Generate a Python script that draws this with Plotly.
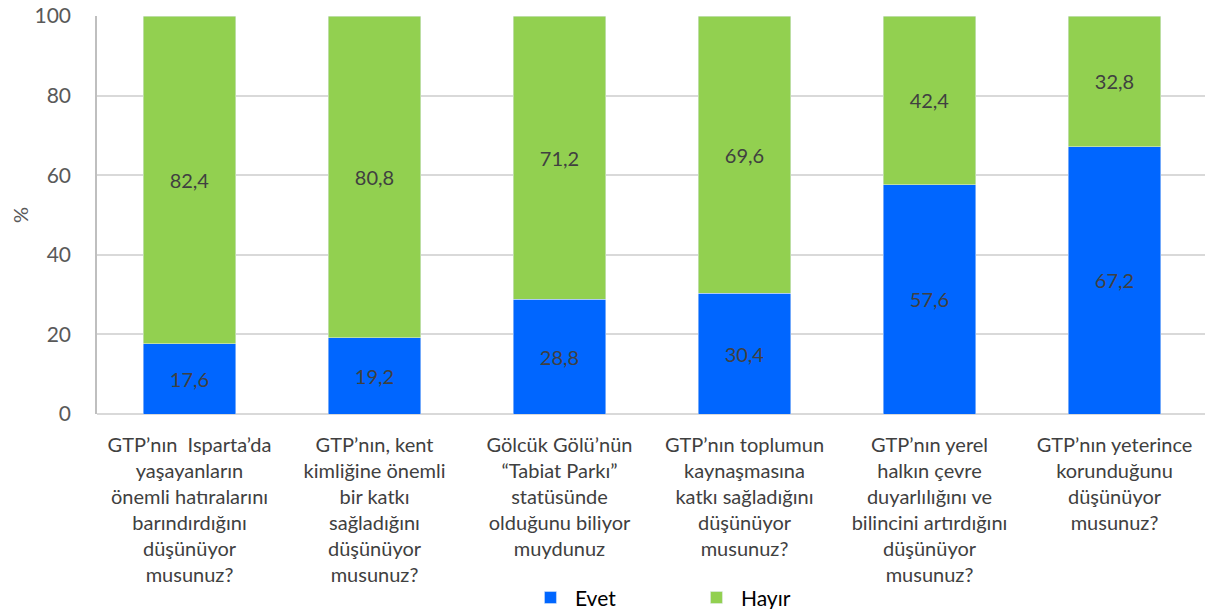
import plotly.graph_objects as go

categories = [
    "GTP’nın  Isparta’da<br>yaşayanların<br>önemli hatıralarını<br>barındırdığını<br>düşünüyor<br>musunuz?",
    "GTP’nın, kent<br>kimliğine önemli<br>bir katkı<br>sağladığını<br>düşünüyor<br>musunuz?",
    "Gölcük Gölü’nün<br>“Tabiat Parkı”<br>statüsünde<br>olduğunu biliyor<br>muydunuz",
    "GTP’nın toplumun<br>kaynaşmasına<br>katkı sağladığını<br>düşünüyor<br>musunuz?",
    "GTP’nın yerel<br>halkın çevre<br>duyarlılığını ve<br>bilincini artırdığını<br>düşünüyor<br>musunuz?",
    "GTP’nın yeterince<br>korunduğunu<br>düşünüyor<br>musunuz?",
]
evet = [17.6, 19.2, 28.8, 30.4, 57.6, 67.2]
hayir = [82.4, 80.8, 71.2, 69.6, 42.4, 32.8]
y_ticks = [0, 20, 40, 60, 80, 100]

FONT = "Lato"

def fmt(v):
    return f"{v:.1f}".replace(".", ",")

fig = go.Figure()
fig.add_trace(go.Bar(
    x=categories, y=evet, name="Evet", marker_color="#0066FF",
    text=[fmt(v) for v in evet], textposition="inside", insidetextanchor="middle",
    textfont=dict(family=FONT, size=20, color="#404040"), textangle=0,
))
fig.add_trace(go.Bar(
    x=categories, y=hayir, name="Hayır", marker_color="#92D050",
    text=[fmt(v) for v in hayir], textposition="inside", insidetextanchor="middle",
    textfont=dict(family=FONT, size=20, color="#404040"), textangle=0,
))

# page has an 8px body margin, so the figure is 8px smaller than the window
fig.update_layout(
    barmode="stack",
    bargap=0.5,
    width=1205, height=601,
    margin=dict(l=89, r=6, t=8, b=195, autoexpand=False),
    paper_bgcolor="white", plot_bgcolor="white",
    font=dict(family=FONT, size=19, color="#595959"),
    legend=dict(
        orientation="h", x=0.536, xanchor="center", y=-0.462, yanchor="middle",
        font=dict(family=FONT, size=21, color="#000000"),
        entrywidth=112, itemwidth=39, traceorder="normal",
    ),
    showlegend=True,
)
fig.update_xaxes(
    tickfont=dict(family=FONT, size=20, color="#404040"),
    showgrid=False, showline=False, ticks="", automargin=False,
    ticklabelstandoff=17,
)
fig.update_yaxes(
    range=[0, 100], tickvals=y_ticks, ticktext=[str(t) for t in y_ticks],
    showgrid=True, gridcolor="#D9D9D9", gridwidth=1.5,
    zeroline=True, zerolinecolor="#D9D9D9", zerolinewidth=1.5,
    showline=True, linecolor="#BFBFBF", linewidth=1.5,
    tickfont=dict(family=FONT, size=21, color="#595959"),
    title=dict(text="%", font=dict(family=FONT, size=20, color="#595959"), standoff=30),
    ticks="", ticklabelstandoff=20, automargin=False, ticklabeloverflow="allow",
)

fig.write_html("out.html")
